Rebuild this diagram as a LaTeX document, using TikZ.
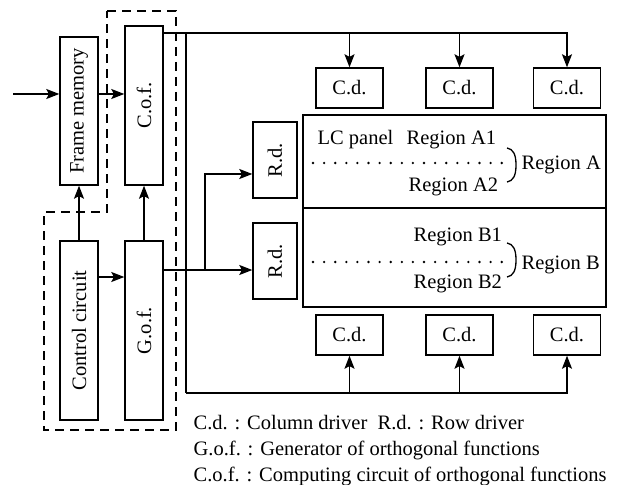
\documentclass[tikz,border=0pt]{standalone}
\usepackage{fontspec}
\setmainfont{Liberation Serif}
\usetikzlibrary{arrows.meta}
\begin{document}
\begin{tikzpicture}[x=1bp,y=-1bp, line width=1.3bp,
  every node/.style={font=\fontsize{20.5bp}{24bp}\selectfont, inner sep=0pt},
  blk/.style={draw, line width=1.4bp},
  vblk/.style={blk, minimum width=38bp},
  cdbox/.style={blk, minimum width=67bp, minimum height=40bp},
  rdbox/.style={blk, minimum width=44bp, minimum height=76bp},
  arr/.style={-{Stealth[length=13bp,width=10bp,inset=2.5bp]}},
  dotline/.style={line width=2.6bp, dash pattern=on 0bp off 11.1bp, line cap=round},
  txt/.style={anchor=base west}]
\useasboundingbox (0,0) rectangle (626,485);

% dashed grouping outline
\draw[line width=1.3bp, dash pattern=on 9bp off 6bp]
  (107,11) -- (176,11) -- (176,430) -- (44,430) -- (44,212) -- (107,212) -- cycle;

% blocks
\node[vblk, minimum height=148bp] (fm)  at (79,111)    {\rotatebox{90}{Frame memory}};
\node[vblk, minimum height=159bp] (cof) at (144,105.5) {\rotatebox{90}{C.o.f.}};
\node[vblk, minimum height=179bp] (cc)  at (79,330.5)  {\rotatebox{90}{Control circuit}};
\node[vblk, minimum height=179bp] (gof) at (144,330.5) {\rotatebox{90}{G.o.f.}};
\node[rdbox] (rd1) at (275,160) {\rotatebox{90}{R.d.}};
\node[rdbox] (rd2) at (275,261) {\rotatebox{90}{R.d.}};

\node[cdbox] (cdt1) at (349.5,88) {C.d.};
\node[cdbox] (cdt2) at (459.5,88) {C.d.};
\node[cdbox] (cdt3) at (567,88)   {C.d.};
\node[cdbox] (cdb1) at (349.5,335) {C.d.};
\node[cdbox] (cdb2) at (459.5,335) {C.d.};
\node[cdbox] (cdb3) at (567,335)   {C.d.};

\node[blk, minimum width=303bp, minimum height=93bp] (pa) at (454.5,161.5) {};
\node[blk, minimum width=303bp, minimum height=99bp] (pb) at (454.5,257.5) {};

% panel texts
\node[txt] (lcp) at (317,145) {LC panel};
\node[txt] (ra1) at (406,145) {Region A1};
\node[txt] (ra2) at (408,192) {Region A2};
\node[txt] (ra)  at (521,170) {Region A};
\node[txt] (rb1) at (413,242) {Region B1};
\node[txt] (rb2) at (413,288) {Region B2};
\node[txt] (rb)  at (521,269) {Region B};

\draw[dotline] (313,163) -- (503,163);
\draw[dotline] (313,262) -- (503,262);
\draw[line width=1.3bp] (507,148) .. controls (513,149) and (516,154) .. (516,165)
  .. controls (516,176) and (513,181) .. (507,182);
\draw[line width=1.3bp] (507,243) .. controls (513,244) and (516,249) .. (516,260)
  .. controls (516,271) and (513,276) .. (507,277);

% legend
\node[txt] (l1) at (193,429) {C.d. : Column driver\ \ R.d. : Row driver};
\node[txt] (l2) at (193,455) {G.o.f. : Generator of orthogonal functions};
\node[txt] (l3) at (193,481) {C.o.f. : Computing circuit of orthogonal functions};

% connectors
\coordinate (in) at (13,94);
\draw[arr] (in) -- (in -| fm.west);
\draw[arr] (fm.east |- in) -- (cof.west |- in);
\draw[arr] (cc.north) -- (fm.south);
\draw[arr] (gof.north) -- (cof.south);
\coordinate (c1) at (0,277);
\draw[arr] (cc.east |- c1) -- (gof.west |- c1);
\coordinate (g1) at (0,270);
\draw[arr] (gof.east |- g1) -- (rd2.west |- g1);
\coordinate (br) at (205,270);
\coordinate (r1) at (0,174);
\draw[arr] (br) |- (rd1.west |- r1);

\coordinate (t0) at (0,33);
\coordinate (bus) at (186,33);
\coordinate (b0) at (186,393);
\draw[arr] (cof.east |- t0) -| (cdt3.north);
\draw[arr] (cdt1.north |- t0) -- (cdt1.north);
\draw[arr] (cdt2.north |- t0) -- (cdt2.north);
\draw (bus) -- (b0);
\draw[arr] (b0) -| (cdb3.south);
\draw[arr] (cdb1.south |- b0) -- (cdb1.south);
\draw[arr] (cdb2.south |- b0) -- (cdb2.south);
\end{tikzpicture}
\end{document}
